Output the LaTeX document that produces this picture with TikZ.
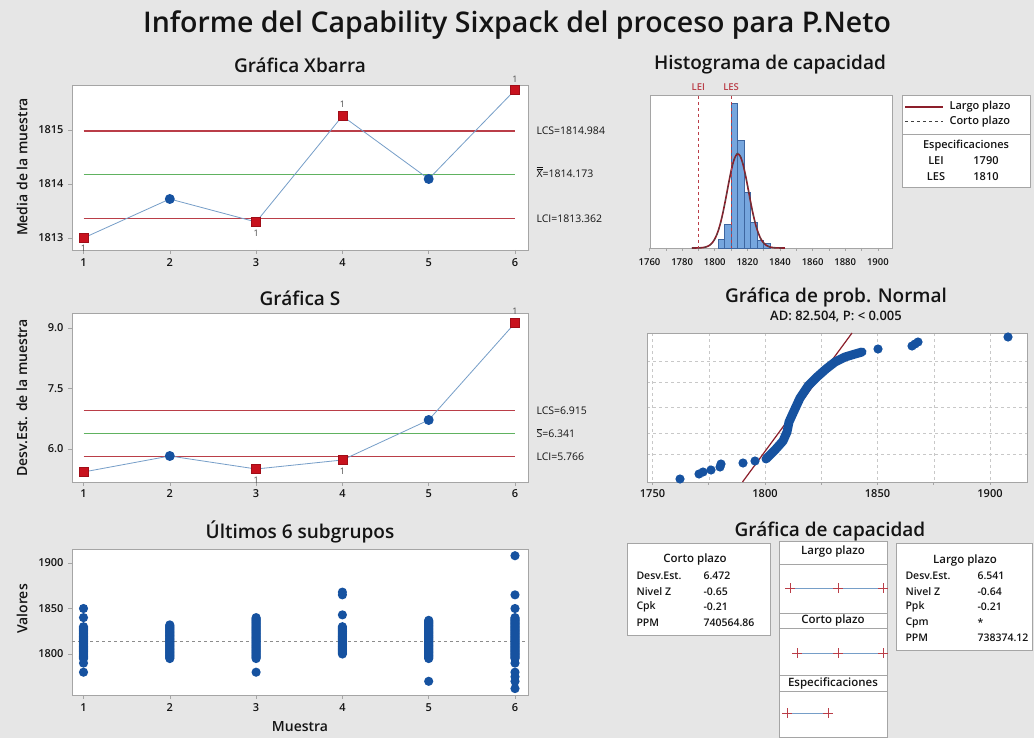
\documentclass[tikz,border=0pt]{standalone}
\usepackage{fontspec}
\setmainfont{Open Sans}
\IfFontExistsTF{Open Sans SemiBold}{\newfontfamily\semib{Open Sans SemiBold}}{%
  \IfFontExistsTF{Open Sans Semibold}{\newfontfamily\semib{Open Sans Semibold}}{%
    \newfontfamily\semib{Open Sans}[FakeBold=2]}}
\usetikzlibrary{positioning}

\definecolor{fondo}{RGB}{230,230,230}
\definecolor{marco}{RGB}{165,165,165}
\definecolor{rojolim}{RGB}{186,62,72}
\definecolor{verdelim}{RGB}{96,178,96}
\definecolor{azulpunto}{RGB}{22,82,160}
\definecolor{azullinea}{RGB}{118,158,200}
\definecolor{rojopunto}{RGB}{200,18,30}
\definecolor{barra}{RGB}{118,166,222}
\definecolor{bordebarra}{RGB}{62,102,160}
\definecolor{curva}{RGB}{140,30,42}
\definecolor{rejilla}{RGB}{200,200,200}
\definecolor{texto}{RGB}{20,20,20}

\newcommand{\tam}[1]{\fontsize{#1}{#1}\selectfont}

\begin{document}
\begin{tikzpicture}[x=1pt,y=-1pt,text=texto,
  panel/.style={draw=marco,fill=white,line width=0.7pt},
  titulo/.style={font=\semib\tam{19}},
  marcas/.style={font=\semib\tam{11}},
  marcash/.style={font=\semib\tam{9.5}},
  ejetxt/.style={font=\semib\tam{14},rotate=90},
  limtxt/.style={font=\tam{10.5},anchor=west},
  limrojo/.style={draw=rojolim,line width=1.1pt},
  limverde/.style={draw=verdelim,line width=1.1pt},
  enlace/.style={draw=azullinea,line width=0.8pt},
  cuadro/.style={fill=rojopunto,draw=rojopunto!80!black,line width=0.3pt,minimum size=9pt,inner sep=0pt},
  punto/.style={fill=azulpunto,circle,minimum size=10pt,inner sep=0pt},
  uno/.style={font=\tam{9},text=black!70},
  tic/.style={draw=marco,line width=0.6pt},
  intervalo/.style={draw=azullinea,line width=1pt},
  extremo/.style={draw=rojolim,line width=1pt},
  tabla/.style={font=\semib\tam{10.5},anchor=west},
  cabecera/.style={font=\semib\tam{11.5}},
  leyenda/.style={font=\semib\tam{11}},
]
\useasboundingbox[fill=fondo] (0,0) rectangle (1034,738);

\node[font=\semib\tam{28.5}] (titulo) at (517,25) {Informe del Capability Sixpack del proceso para P.Neto};

% Grafica Xbarra
\node[titulo] (tXb) at (300,65) {Gráfica Xbarra};
\draw[panel] (72,85) rectangle (528,250);
\foreach \i in {1,...,6} {
  \draw[tic] ({83.5+(\i-1)*86.3},250) -- ++(0,4);
  \node[marcas] at ({83.5+(\i-1)*86.3},263) {\i};
}
\foreach \v/\y in {1813/238,1814/184,1815/130} {
  \draw[tic] (72,\y) -- ++(-4,0);
  \node[marcas,anchor=east] at (67,\y) {\v};
}
\node[ejetxt] (yXb) at (22,167) {Media de la muestra};
\draw[limrojo] (83.5,131) -- (515,131);
\draw[limverde] (83.5,174.6) -- (515,174.6);
\draw[limrojo] (83.5,218.4) -- (515,218.4);
\node[limtxt] (lcsXb) at (533,131) {LCS=1814.984};
\node[limtxt] (medXb) at (533,172) {$\overline{\overline{\mbox{X}}}$=1814.173};
\node[limtxt] (lciXb) at (533,218.4) {LCI=1813.362};
\foreach \i/\y in {1/238,2/199,3/222,4/116,5/179,6/90}
  \coordinate (xb\i) at ({83.5+(\i-1)*86.3},\y);
\draw[enlace] (xb1) -- (xb2) -- (xb3) -- (xb4) -- (xb5) -- (xb6);
\node[uno] (u1) at (83.5,248) {1};
\node[uno] (u3) at (256.1,233) {1};
\foreach \i in {1,3,4,6} \node[cuadro] (mxb\i) at (xb\i) {};
\foreach \i in {2,5} \node[punto] (mxb\i) at (xb\i) {};
\node[uno] (u4) at (342.4,104) {1};
\node[uno] (u6) at (515,79) {1};

% Grafica S
\node[titulo] (tS) at (300,298) {Gráfica S};
\draw[panel] (72,313) rectangle (528,482);
\foreach \i in {1,...,6} {
  \draw[tic] ({83.5+(\i-1)*86.3},482) -- ++(0,4);
  \node[marcas] at ({83.5+(\i-1)*86.3},494) {\i};
}
\foreach \v/\y in {6.0/449,7.5/388.5,9.0/328} {
  \draw[tic] (72,\y) -- ++(-4,0);
  \node[marcas,anchor=east] at (67,\y) {\v};
}
\node[ejetxt] (yS) at (22,398) {Desv.Est. de la muestra};
\draw[limrojo] (83.5,410.5) -- (515,410.5);
\draw[limverde] (83.5,433.5) -- (515,433.5);
\draw[limrojo] (83.5,456.5) -- (515,456.5);
\node[limtxt] (lcsS) at (533,410.5) {LCS=6.915};
\node[limtxt] (medS) at (533,433) {$\overline{\mbox{S}}$=6.341};
\node[limtxt] (lciS) at (533,456.5) {LCI=5.766};
\foreach \i/\y in {1/472,2/456,3/469,4/460,5/420,6/323}
  \coordinate (s\i) at ({83.5+(\i-1)*86.3},\y);
\draw[enlace] (s1) -- (s2) -- (s3) -- (s4) -- (s5) -- (s6);
\node[uno] (us3) at (256.1,480) {1};
\node[uno] (us4) at (342.4,471) {1};
\foreach \i in {1,3,4,6} \node[cuadro] (ms\i) at (s\i) {};
\foreach \i in {2,5} \node[punto] (ms\i) at (s\i) {};
\node[uno] (us6) at (515,311) {1};

% Ultimos 6 subgrupos
\node[titulo] (tU) at (300,532) {Últimos 6 subgrupos};
\draw[panel] (72,549) rectangle (528,695);
\foreach \i in {1,...,6} {
  \draw[tic] ({83.5+(\i-1)*86.3},695) -- ++(0,4);
  \node[marcas] at ({83.5+(\i-1)*86.3},708) {\i};
}
\foreach \v in {1800,1850,1900} {
  \draw[tic] (72,{654-(\v-1800)*0.91}) -- ++(-4,0);
  \node[marcas,anchor=east] at (67,{654-(\v-1800)*0.91}) {\v};
}
\node[ejetxt] (yU) at (22,609) {Valores};
\node[font=\semib\tam{14}] (xU) at (300,727) {Muestra};
\draw[black!45,dashed,line width=0.7pt] (72,641) -- (528,641);
\foreach \i/\lista in {1/{1780,1790,1795,1796,...,1830,1840,1850},
                       2/{1795,1796,...,1832},
                       3/{1780,1795,1796,...,1840},
                       4/{1800,1801,...,1830,1843,1865,1868},
                       5/{1770,1795,1796,...,1837},
                       6/{1762,1770,1775,1780,1790,1795,1796,...,1840,1850,1865,1908}}
  \foreach \v in \lista
    \fill[azulpunto] ({83.5+(\i-1)*86.3},{654-(\v-1800)*0.91}) circle (4.6pt);

% Histograma de capacidad
\node[titulo] (tH) at (770,65) {Histograma de capacidad};
\draw[panel] (650,95) rectangle (892,248);
\foreach \v in {1760,1770,...,1900}
  \draw[tic] ({649.5+(\v-1760)*1.631},248) -- ++(0,3);
\foreach \v in {1760,1780,...,1900}
  \node[marcash] at ({649.5+(\v-1760)*1.631},262) {\v};
\foreach \a/\h in {1802/9,1806/24,1810/145,1814/108,1818/56,1822/26,1826/8,1830/5}
  \draw[fill=barra,draw=bordebarra,line width=0.5pt]
    ({649.5+(\a-1760)*1.631},248) rectangle ({649.5+(\a+4-1760)*1.631},{248-\h});
\draw[curva,line width=1.6pt] plot[domain=1786:1843,samples=90]
  ({649.5+(\x-1760)*1.631},{248-94*exp(-0.5*(\x-1814.17)*(\x-1814.17)/42.785)});
\draw[black!70,dashed,line width=0.7pt] plot[domain=1786:1843,samples=90]
  ({649.5+(\x-1760)*1.631},{248-95*exp(-0.5*(\x-1814.17)*(\x-1814.17)/41.887)});
\draw[rojolim,dashed,line width=0.8pt] (698.4,96) -- (698.4,248);
\draw[rojolim,dashed,line width=0.8pt] (731.1,96) -- (731.1,248);
\node[marcash,text=rojolim] (lei) at (698.4,87) {LEI};
\node[marcash,text=rojolim] (les) at (731.1,87) {LES};

\draw[panel] (902,95) rectangle (1030,187);
\draw[marco] (902,134) -- (1030,134);
\draw[curva,line width=1.3pt] (905,107) -- (943,107);
\draw[black!75,dashed,line width=1pt] (905,122) -- (943,122);
\node[leyenda,anchor=west] (lLargo) at (946,107) {Largo plazo};
\node[leyenda,anchor=west] (lCorto) at (946,122) {Corto plazo};
\node[leyenda] (lEsp) at (966,146) {Especificaciones};
\node[leyenda] (lLEI) at (936,161) {LEI};
\node[leyenda] (vLEI) at (986,161) {1790};
\node[leyenda] (lLES) at (936,177) {LES};
\node[leyenda] (vLES) at (986,177) {1810};

% Grafica de prob. Normal
\node[titulo] (tP) at (836,298) {Gráfica de prob. Normal};
\node[font=\semib\tam{13}] (sP) at (836,317) {AD: 82.504, P: < 0.005};
\draw[panel] (647,333) rectangle (1027,482);
\foreach \v in {1750,1775,...,1900}
  \draw[rejilla,dashed,line width=0.5pt] ({765+(\v-1800)*2.25},333) -- ({765+(\v-1800)*2.25},482);
\foreach \z in {-2.326,-1.2816,0,1.2816,2.326}
  \draw[rejilla,dashed,line width=0.5pt] (647,{407.5-20*\z}) -- (1027,{407.5-20*\z});
\draw[marco,line width=0.7pt] (647,333) rectangle (1027,482);
\foreach \v in {1750,1775,...,1900}
  \draw[tic] ({765+(\v-1800)*2.25},482) -- ++(0,3);
\foreach \v in {1750,1800,1850,1900}
  \node[marcas] at ({765+(\v-1800)*2.25},494) {\v};
\draw[curva,line width=1.2pt] (742.5,482) -- (852,333);
\draw[azulpunto,line width=9pt,line cap=round,line join=round]
  (766,459) -- (775,450) -- (783,441) -- (787,432) -- (789,422) -- (794,411) -- (800,398)
  -- (808,386) -- (817,377) -- (826,369) -- (835,362) -- (845,357) -- (855,354) -- (862,352);
\foreach \x/\y in {680/479,699/474,703/472,711/470,720/467,721/464,743/463,755/461,
                   878/349,912/346,915/344,918/342,1008/337}
  \fill[azulpunto] (\x,\y) circle (4.6pt);

% Grafica de capacidad
\node[titulo] (tC) at (830,532) {Gráfica de capacidad};
\draw[panel] (627,543) rectangle (770,635);
\node[cabecera] (cCorto) at (695,560) {Corto plazo};
\foreach \e/\n/\y in {Desv.Est./6.472/576,Nivel Z/-0.65/591.5,Cpk/-0.21/607,PPM/740564.86/622.5} {
  \node[tabla] at (633,\y) {\e};
  \node[tabla] at (700,\y) {\n};
}
\draw[panel] (896,543) rectangle (1032,650);
\node[cabecera] (cLargo) at (965,561) {Largo plazo};
\foreach \e/\n/\y in {Desv.Est./6.541/576,Nivel Z/-0.64/591.5,Ppk/-0.21/607,Cpm/*/622.5,PPM/738374.12/638} {
  \node[tabla] at (902,\y) {\e};
  \node[tabla] at (974,\y) {\n};
}
\draw[panel] (779,541) rectangle (887,737.5);
\foreach \y in {564,613,628,675,691}
  \draw[marco,line width=0.6pt] (779,\y) -- (887,\y);
\node[cabecera] (hLargo) at (833,551.5) {Largo plazo};
\node[cabecera] (hCorto) at (833,620.5) {Corto plazo};
\node[cabecera] (hEsp) at (833,683) {Especificaciones};
\coordinate (la) at (790,588);
\coordinate (lb) at (883,588);
\coordinate (ca) at (797,653);
\coordinate (cb) at (883,653);
\coordinate (ea) at (787,713);
\coordinate (eb) at (828,713);
\draw[intervalo] (la) -- (lb);
\draw[intervalo] (ca) -- (cb);
\draw[intervalo] (ea) -- (eb);
\foreach \x/\y in {790/588,838/588,883/588,797/653,838/653,883/653,787/713,828/713} {
  \draw[extremo] (\x,{\y-5}) -- (\x,{\y+5});
  \draw[extremo] ({\x-5},\y) -- ({\x+5},\y);
}
\end{tikzpicture}
\end{document}
